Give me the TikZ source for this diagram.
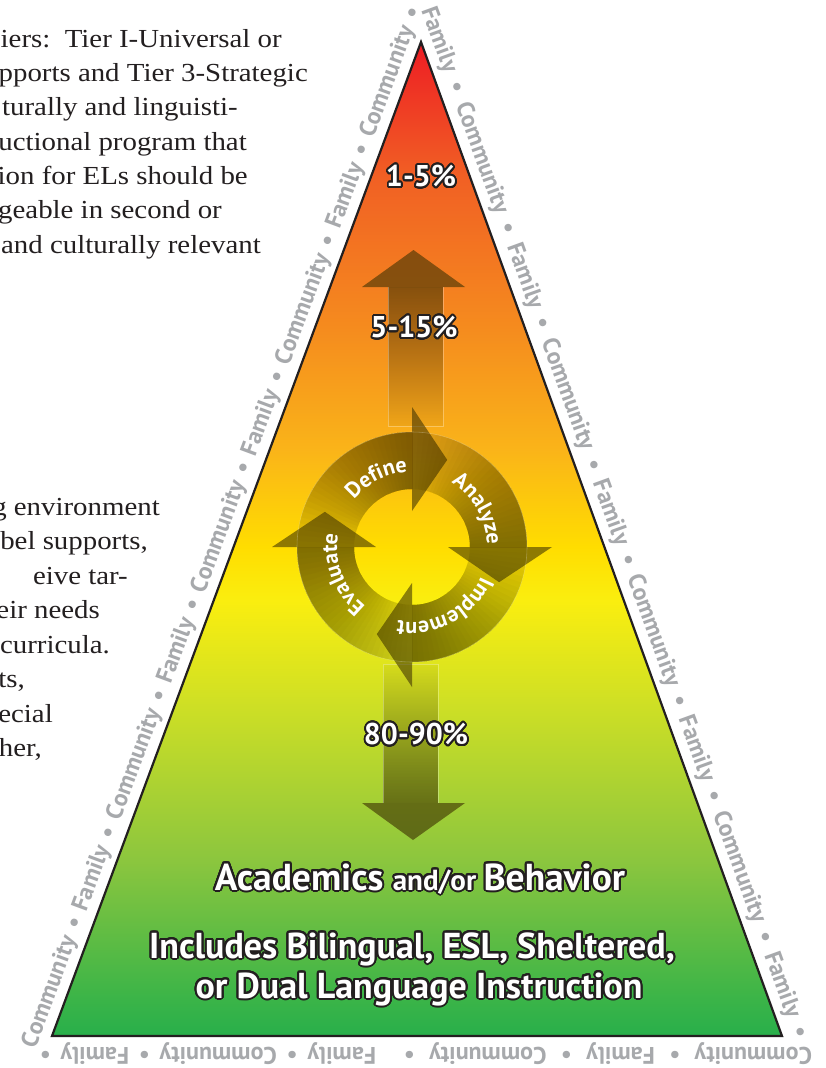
\documentclass[tikz,border=0pt]{standalone}
\usepackage{fontspec}
\usepackage{contour}
\usetikzlibrary{decorations.text,fadings}
\newfontfamily\ptsans{PT Sans}
\newfontfamily\serifx{Liberation Serif}[FakeStretch=1.11]
\contourlength{1.8pt}
\contournumber{28}
\definecolor{inkc}{HTML}{231F20}
\definecolor{gtext}{HTML}{A7A9AC}
\definecolor{ovl}{RGB}{62,50,2}
\definecolor{gA}{RGB}{40,175,75}
\definecolor{gB}{RGB}{58,180,72}
\definecolor{gC}{RGB}{140,198,62}
\definecolor{gD}{RGB}{208,224,36}
\definecolor{gE}{RGB}{250,238,15}
\definecolor{gF}{RGB}{255,221,0}
\definecolor{gG}{RGB}{250,180,25}
\definecolor{gH}{RGB}{245,140,30}
\definecolor{gI}{RGB}{241,96,36}
\definecolor{gJ}{RGB}{237,28,36}
\pgfdeclareverticalshading{pyr}{100bp}{color(0bp)=(gA); color(25bp)=(gA); color(26.8bp)=(gB); color(33.9bp)=(gC); color(41.9bp)=(gD); color(46.9bp)=(gE); color(49.6bp)=(gF); color(54.5bp)=(gG); color(60.5bp)=(gH); color(68.2bp)=(gI); color(75bp)=(gJ); color(100bp)=(gJ)}
\tikzfading[name=fadeN, top color=transparent!0, bottom color=transparent!92]
\tikzfading[name=fadeS, top color=transparent!92, bottom color=transparent!0]
\newcommand\gtx{\ptsans\bfseries\fontsize{24}{24}\selectfont\color{gtext}}
\newcommand\cyc{\ptsans\bfseries\fontsize{22}{22}\selectfont\color{white}}
\begin{document}
\begin{tikzpicture}[x=1pt,y=-1pt,
  ltxt/.style={font={\serifx\fontsize{26}{26}\selectfont}, text=inkc, inner sep=0pt, anchor=base east},
  pct/.style={font={\ptsans\bfseries\fontsize{30}{30}\selectfont}, text=white, inner sep=0pt},
  big/.style={font={\ptsans\bfseries\fontsize{36}{36}\selectfont}, text=white, inner sep=0pt, anchor=base},
  ovlfill/.style={fill=ovl, fill opacity=#1},
  seam/.style={white, draw opacity=0.3, line width=0.6pt}]
\useasboundingbox (0,0) rectangle (825,1068);
\fill[white] (0,0) rectangle (825,1068);

% left text fragments
\node[ltxt, anchor=base west] (t1) at (0.5,47) {iers:\ \ Tier I-Universal or};
\node[ltxt] (t2) at (308,81.3) {pports and Tier 3-Strategic};
\node[ltxt] (t3) at (238,115.7) {turally and linguisti-};
\node[ltxt] (t4) at (247,150) {uctional program that};
\node[ltxt] (t5) at (248,184.3) {ion for ELs should be};
\node[ltxt] (t6) at (222,218.7) {geable in second or};
\node[ltxt] (t7) at (261,253) {and culturally relevant};
\node[ltxt] (m1) at (160,515) {g environment};
\node[ltxt] (m2) at (148,549.5) {bel supports,};
\node[ltxt] (m3) at (128,584) {eive tar-};
\node[ltxt] (m4) at (100,618.5) {eir needs};
\node[ltxt] (m5) at (110,653) {curricula.};
\node[ltxt] (m6) at (25,687.5) {ts,};
\node[ltxt] (m7) at (53,722) {ecial};
\node[ltxt] (m8) at (42,756.5) {her,};

% pyramid
\coordinate (A) at (421,42);
\coordinate (BL) at (52,1036);
\coordinate (BR) at (782,1036);
\shade[shading=pyr] (A) -- (BR) -- (BL) -- cycle;

% vertical arrows
\fill[ovlfill=0.6, path fading=fadeN] (388,287) rectangle (443,426);
\draw[seam] (388,287) -- (388,426) -- (443,426) -- (443,287);
\fill[ovlfill=0.6] (362,287) -- (465,287) -- (413.5,250) -- cycle;
\fill[ovlfill=0.6, path fading=fadeS] (383,664) rectangle (438,803);
\draw[seam] (383,803) -- (383,664) -- (438,664) -- (438,803);
\fill[ovlfill=0.62] (362,803) -- (465,803) -- (413,840) -- cycle;

% cycle
\begin{scope}[shift={(412,547)}, y=1pt]
\foreach \T/\H in {180/90, 90/0, 0/-90, -90/-180} {
  \fill[ovlfill=0.05] (\T:115) arc[start angle=\T, end angle=\H, radius=115] -- (\H:58) arc[start angle=\H, end angle=\T, radius=58] -- cycle;
  \foreach \k in {0,...,29} {
    \pgfmathsetmacro\S{\T-3*\k}
    \fill[ovlfill=0.029] (\S:115) arc[start angle=\S, end angle=\H, radius=115] -- (\H:58) arc[start angle=\H, end angle=\S, radius=58] -- cycle;
  }
  \pgfmathsetmacro\P{\H-22}
  \fill[ovlfill=0.58] (\H:36) -- (\H:140) -- (\P:94) -- cycle;
}
\draw[white, draw opacity=0.25, line width=0.6pt] (0,0) circle[radius=115];
\path[decorate, decoration={text along path, text={|\cyc|Define}, text align=center}] (160:75) arc[start angle=160, end angle=74, radius=75];
\path[decorate, decoration={text along path, text={|\cyc|Analyze}, text align=center}] (73:75) arc[start angle=73, end angle=-13, radius=75];
\path[decorate, decoration={text along path, text={|\cyc|Implement}, text align=center}] (-10:75) arc[start angle=-10, end angle=-114, radius=75];
\path[decorate, decoration={text along path, text={|\cyc|Evaluate}, text align=center}] (250:75) arc[start angle=250, end angle=152, radius=75];
\end{scope}

% outline
\draw[inkc, line width=2.2pt, line join=miter] (A) -- (BR) -- (BL) -- cycle;

% labels
\node[pct] (p1) at (421,177) {\contour{inkc}{1-5\%}};
\node[pct] (p2) at (414,328) {\contour{inkc}{5-15\%}};
\node[pct] (p3) at (416,735) {\contour{inkc}{80-90\%}};
\node[big] (b1) at (420,890) {\contourlength{2pt}\contour{inkc}{\fontsize{37.5}{37.5}\selectfont Academics \fontsize{29}{29}\selectfont and/or \fontsize{37.5}{37.5}\selectfont Behavior}};
\node[big] (b2) at (412,958) {\contourlength{2pt}\contour{inkc}{Includes Bilingual, ESL, Sheltered,}};
\node[big] (b3) at (419,998) {\contourlength{2pt}\contour{inkc}{or Dual Language Instruction}};

% surrounding words
\path[decorate, decoration={text along path, text={|\gtx|Community • Family • Community • Family • Community • Family • Community • Family • Community •}, text align={fit to path stretching spaces}}] (35.4,1049.1) -- (421,10.5);
\path[decorate, decoration={text along path, text={|\gtx|Family • Community • Family • Community • Family • Community • Family • Community • Family •}, text align={fit to path stretching spaces}}] (421,10) -- (795,1040);
\path[decorate, decoration={text along path, text={|\gtx|Community • Family • Community •}, text align={fit to path stretching spaces}}] (812,1047) -- (404,1047);
\path[decorate, decoration={text along path, text={|\gtx|Family • Community • Family •}, text align={fit to path stretching spaces}}] (376,1047) -- (40,1047);
\end{tikzpicture}
\end{document}
